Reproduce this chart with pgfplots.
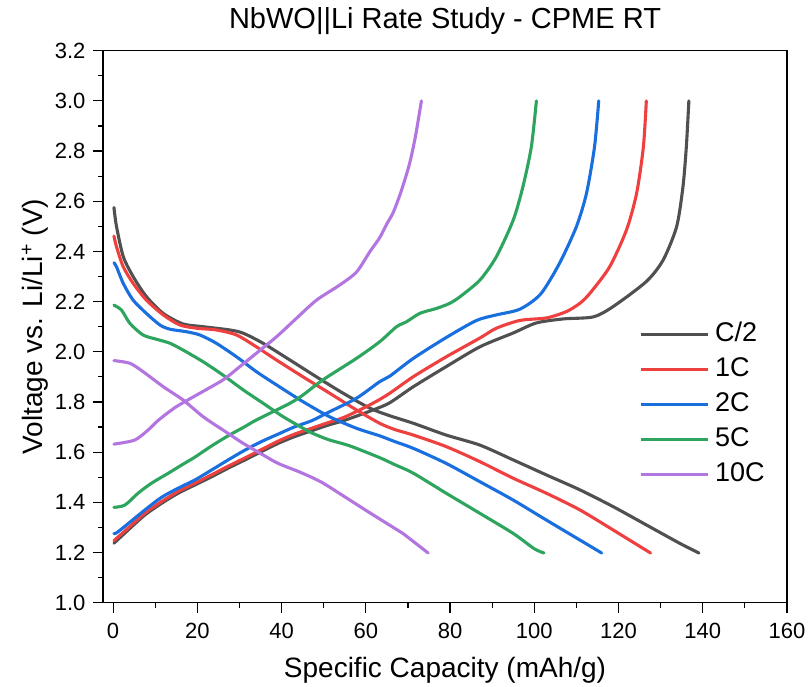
\documentclass[border=0pt]{standalone}
\usepackage{fontspec}
\setmainfont{Liberation Sans}
\usepackage{pgfplots}
\pgfplotsset{compat=1.18}
\definecolor{cgray}{RGB}{80,80,80}
\definecolor{cred}{RGB}{239,64,64}
\definecolor{cblue}{RGB}{26,111,223}
\definecolor{cgreen}{RGB}{46,165,95}
\definecolor{cpurple}{RGB}{179,117,224}
\tikzset{crv/.style={line width=3.1pt, line join=round, line cap=round, smooth, tension=0.45}}
\begin{document}
\begin{tikzpicture}
\begin{axis}[
  scale only axis, width=684pt, height=552pt,
  xmin=-2.4, xmax=160, ymin=1, ymax=3.2,
  xtick={0,20,...,160}, ytick={1.0,1.2,...,3.21},
  minor x tick num=1, minor y tick num=1,
  tick pos=left, tick align=outside,
  major tick length=10pt, minor tick length=5pt,
  every tick/.style={black, line width=1.2pt},
  axis line style={line width=1.2pt},
  /pgf/number format/assume math mode=true,
  yticklabel style={/pgf/number format/fixed, /pgf/number format/precision=1, /pgf/number format/fixed zerofill, xshift=-4pt},
  xticklabel style={yshift=-7pt},
  tick label style={font=\fontsize{22}{26}\selectfont},
  title={NbWO||Li Rate Study - CPME RT},
  title style={font=\fontsize{29}{34}\selectfont, at={(axis description cs:0.5,1)}, anchor=base, yshift=16pt},
  xlabel={Specific Capacity (mAh/g)},
  xlabel style={font=\fontsize{28}{33}\selectfont, at={(axis description cs:0.5,0)}, anchor=base, yshift=-75pt},
  ylabel={Voltage vs. Li/Li\textsuperscript{+} (V)},
  ylabel style={font=\fontsize{28}{33}\selectfont, at={(axis description cs:-0.089,0.5)}, anchor=base},
  legend style={draw=none, fill=none, at={(axis cs:124.1,2.131)}, anchor=north west,
    font=\fontsize{27}{32}\selectfont, row sep=9pt, column sep=6pt, nodes={inner sep=0pt, text height=20pt, text depth=6pt}},
  legend cell align=left,
  legend image code/.code={\draw[#1, line width=3.1pt, line cap=butt] (0pt,0pt) -- (67pt,0pt);},
]
% C/2
\addplot[cgray, crv] coordinates {(0.2,2.575)(0.8,2.50)(2.4,2.38)(4.75,2.30)(7.9,2.22)(11.9,2.153)(16.6,2.111)(21.4,2.100)(27.7,2.087)(30.9,2.074)(35.6,2.034)(42,1.967)(48.3,1.90)(54.6,1.835)(61,1.775)(65.7,1.745)(71.3,1.715)(79.1,1.668)(87.1,1.628)(95,1.569)(102.9,1.509)(110.8,1.45)(118.7,1.383)(126.6,1.31)(134.5,1.237)(139.1,1.198)};
\addlegendentry{C/2}
\addplot[cgray, crv, forget plot] coordinates {(0.2,1.237)(3.6,1.29)(7.5,1.349)(11.5,1.396)(15.4,1.436)(19.4,1.469)(23.4,1.502)(27.3,1.536)(31.3,1.569)(35.2,1.602)(39.2,1.635)(43.1,1.662)(47.1,1.685)(51.1,1.708)(55,1.727)(61.7,1.768)(65.7,1.797)(71.3,1.861)(79.1,1.941)(87.1,2.02)(95,2.075)(100.5,2.115)(106.9,2.131)(114,2.139)(118.7,2.18)(126.6,2.28)(130.6,2.366)(133.8,2.499)(135.3,2.658)(136.1,2.817)(136.7,3.0)};
% 1C
\addplot[cred, crv] coordinates {(0.2,2.461)(0.8,2.419)(2.4,2.339)(4.75,2.273)(7.9,2.206)(11.9,2.147)(15.8,2.107)(19.8,2.094)(24.5,2.087)(29.3,2.067)(34,2.02)(38.8,1.967)(45.1,1.90)(51.4,1.835)(57.8,1.768)(63.3,1.715)(66.9,1.69)(71.3,1.668)(79.1,1.622)(87.1,1.562)(95,1.496)(102.9,1.436)(110.8,1.37)(118.7,1.29)(127.6,1.198)};
\addlegendentry{1C}
\addplot[cred, crv, forget plot] coordinates {(0.2,1.247)(3.6,1.298)(7.5,1.356)(11.5,1.403)(15.4,1.443)(19.4,1.476)(23.4,1.51)(27.3,1.544)(31.3,1.577)(35.2,1.61)(39.2,1.644)(43.1,1.672)(47.1,1.695)(51.1,1.718)(55,1.74)(61.7,1.795)(65.7,1.835)(71.3,1.901)(79.1,1.98)(87.1,2.055)(91,2.094)(96.6,2.125)(102.9,2.135)(107.6,2.16)(110.8,2.193)(113.2,2.233)(117.9,2.339)(121.9,2.486)(124.3,2.632)(125.9,2.817)(126.6,3.0)};
% 2C
\addplot[cblue, crv] coordinates {(0.2,2.355)(0.8,2.339)(2.4,2.273)(4.75,2.206)(7.9,2.153)(11.1,2.107)(13.5,2.09)(17.4,2.08)(20.6,2.067)(24.5,2.034)(29.3,1.98)(34,1.921)(38.8,1.868)(45.1,1.801)(51.4,1.741)(57.8,1.695)(63.3,1.665)(66.9,1.642)(71.3,1.615)(79.1,1.555)(87.1,1.482)(95,1.409)(102.9,1.329)(110.8,1.25)(116,1.198)};
\addlegendentry{2C}
\addplot[cblue, crv, forget plot] coordinates {(0.2,1.276)(1.2,1.283)(7.5,1.369)(11.5,1.42)(15.4,1.456)(19.4,1.489)(23.4,1.529)(27.3,1.569)(31.3,1.608)(35.2,1.642)(39.2,1.672)(43.1,1.701)(47.1,1.725)(51.4,1.761)(57.8,1.815)(63.3,1.881)(65.7,1.903)(71.3,1.974)(79.1,2.057)(86.3,2.125)(91,2.147)(96.6,2.17)(101.5,2.23)(106,2.353)(110,2.499)(112.4,2.632)(114.3,2.817)(115.3,3.0)};
% 5C
\addplot[cgreen, crv] coordinates {(0.2,2.186)(2,2.166)(4,2.113)(7.1,2.067)(10.3,2.05)(13.5,2.034)(16.6,2.007)(21.4,1.96)(26.1,1.907)(30.9,1.848)(35.6,1.795)(40.4,1.741)(45.1,1.695)(47.1,1.677)(51.1,1.65)(56.2,1.625)(63.3,1.578)(66.9,1.55)(71.3,1.516)(79.1,1.436)(87.1,1.356)(95,1.276)(100,1.215)(102.3,1.198)};
\addlegendentry{5C}
\addplot[cgreen, crv, forget plot] coordinates {(0.2,1.38)(2.8,1.389)(5.9,1.436)(9.1,1.476)(13.1,1.516)(17,1.556)(19.4,1.58)(23.4,1.625)(27.3,1.665)(31.3,1.702)(34,1.728)(42,1.795)(45.1,1.828)(49.8,1.888)(57.8,1.974)(63.3,2.04)(67.3,2.10)(69.7,2.12)(72.8,2.153)(76.8,2.173)(79.9,2.193)(82.4,2.22)(87.1,2.286)(91,2.379)(95,2.525)(97.3,2.658)(99.3,2.817)(100.5,3.0)};
% 10C
\addplot[cpurple, crv] coordinates {(0.2,1.965)(4,1.954)(7.1,1.921)(11.9,1.861)(16.6,1.808)(21.4,1.741)(26.1,1.688)(30.9,1.635)(35.6,1.589)(39.2,1.555)(44.7,1.518)(49.5,1.48)(55,1.422)(60.5,1.363)(66.9,1.296)(68.8,1.276)(74.8,1.198)};
\addlegendentry{10C}
\addplot[cpurple, crv, forget plot] coordinates {(0.2,1.632)(5.1,1.648)(8.3,1.688)(10.8,1.728)(15,1.781)(20.6,1.835)(26.1,1.888)(30.1,1.941)(34,1.994)(38.8,2.06)(43.5,2.133)(48.3,2.206)(53.8,2.266)(57.8,2.318)(61,2.40)(63.3,2.455)(65,2.51)(66.5,2.555)(68.4,2.64)(70.4,2.751)(71.8,2.86)(73.2,3.0)};
\end{axis}
\pgfresetboundingbox
\path ([shift={(-103pt,-84.3pt)}]current axis.south west) rectangle ([shift={(24pt,50.7pt)}]current axis.north east);
\end{tikzpicture}
\end{document}
